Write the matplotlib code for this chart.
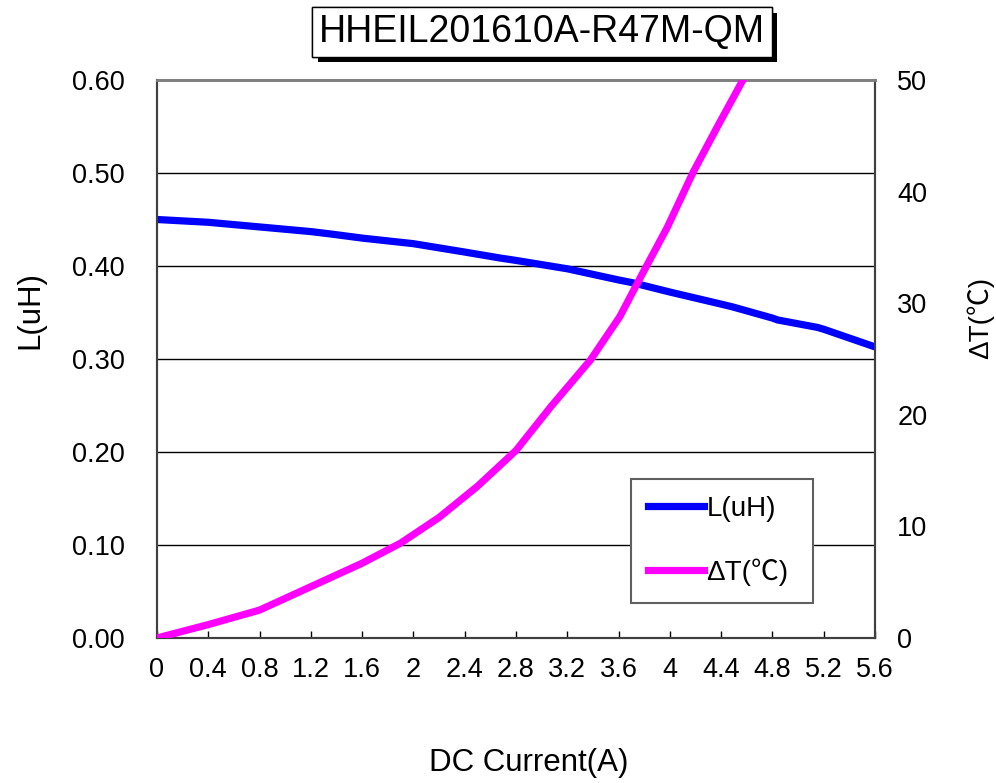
import matplotlib
matplotlib.use("Agg")
import matplotlib.pyplot as plt
import matplotlib.patheffects as pe
from matplotlib.lines import Line2D

plt.rcParams['font.family'] = ['Liberation Sans', 'Noto Sans CJK SC', 'DejaVu Sans']

title = "HHEIL201610A-R47M-QM"
current_L = [0, 0.4, 0.8, 1.2, 1.35, 1.6, 2.0, 2.4, 2.675, 2.8, 3.2, 3.6, 3.71, 4.0, 4.4,
             4.49, 4.8, 4.84, 5.15, 5.2, 5.6]
inductance = [0.450, 0.447, 0.442, 0.437, 0.4345, 0.430, 0.424, 0.415, 0.4086, 0.406, 0.397,
              0.385, 0.382, 0.372, 0.359, 0.356, 0.344, 0.342, 0.334, 0.332, 0.313]
current_T = [0, 0.4, 0.8, 1.2, 1.6, 1.9, 2.2, 2.5, 2.8, 3.07, 3.38, 3.61, 3.77, 3.98,
             4.18, 4.37, 4.56, 4.6]
delta_T = [0, 1.2, 2.5, 4.6, 6.7, 8.5, 10.8, 13.6, 16.8, 20.7, 24.9, 28.8, 32.3, 36.8,
           41.7, 45.8, 49.8, 50.6]
x_ticks = [0, 0.4, 0.8, 1.2, 1.6, 2, 2.4, 2.8, 3.2, 3.6, 4, 4.4, 4.8, 5.2, 5.6]
x_ticklabels = ["0", "0.4", "0.8", "1.2", "1.6", "2", "2.4", "2.8", "3.2", "3.6", "4",
                "4.4", "4.8", "5.2", "5.6"]
yL_ticks = [0, 0.1, 0.2, 0.3, 0.4, 0.5, 0.6]
yT_ticks = [0, 10, 20, 30, 40, 50]

fig = plt.figure(figsize=(9.96, 7.83), dpi=100)
ax = fig.add_axes([157/996, 1-638/783, 718/996, 558/783])
ax2 = ax.twinx()

ax.set_xlim(0, 5.6)
ax.set_ylim(0, 0.6)
ax2.set_ylim(0, 50)

for y in yL_ticks[1:-1]:
    ax.axhline(y, color='black', lw=1.0, zorder=1)

ax.plot(current_L, inductance, color='#0000FF', lw=5.2, solid_capstyle='butt',
        solid_joinstyle='round', zorder=3)
ax2.plot(current_T, delta_T, color='#FF00FF', lw=5.2, solid_capstyle='butt',
         solid_joinstyle='round', zorder=3)

ax.set_xticks(x_ticks)
ax.set_xticklabels(x_ticklabels)
ax.set_yticks(yL_ticks)
ax.set_yticklabels([f"{v:.2f}" for v in yL_ticks])
ax2.set_yticks(yT_ticks)
ax2.set_yticklabels([str(v) for v in yT_ticks])

ax.tick_params(axis='x', direction='in', length=5, width=1, labelsize=19.5, pad=14)
ax.tick_params(axis='y', length=0, labelsize=19.5, pad=23)
ax2.tick_params(axis='y', length=0, labelsize=19.5, pad=16)

for a in (ax, ax2):
    a.spines['top'].set_color('#808080')
    a.spines['top'].set_linewidth(2)
    for s in ('left', 'right', 'bottom'):
        a.spines[s].set_color('#404040')
        a.spines[s].set_linewidth(1.5)

fig.text(30/996, 1-310/783, "L(uH)", rotation=90, ha='center', va='center', fontsize=22.5)
fig.text(980/996, 1-318/783, "ΔT(℃)", rotation=90, ha='center', va='center', fontsize=20)
fig.text(529/996, 1-763/783, "DC Current(A)", ha='center', va='center', fontsize=22.5)

t = fig.text(542/996, 1-32/783, title, ha='center', va='center', fontsize=27,
             bbox=dict(boxstyle='square,pad=0.18', facecolor='white', edgecolor='black', lw=1))
t.get_bbox_patch().set_path_effects([
    pe.withSimplePatchShadow(offset=(4, -4), shadow_rgbFace='black', alpha=1.0), pe.Normal()])

handles = [Line2D([], [], color='#0000FF', lw=5.2), Line2D([], [], color='#FF00FF', lw=5.2)]
leg = ax2.legend(handles, ["L(uH)", "ΔT(℃)"], loc='upper left',
                 bbox_to_anchor=(0.660, 0.057, 0.254, 0.228), mode='expand',
                 fontsize=20, frameon=True, fancybox=False, framealpha=1,
                 edgecolor='#606060', handlelength=2.0, handletextpad=0.1,
                 labelspacing=1.3, borderpad=0.62, borderaxespad=0)
leg.get_frame().set_linewidth(1.5)

fig.savefig("out.png", dpi=100)
